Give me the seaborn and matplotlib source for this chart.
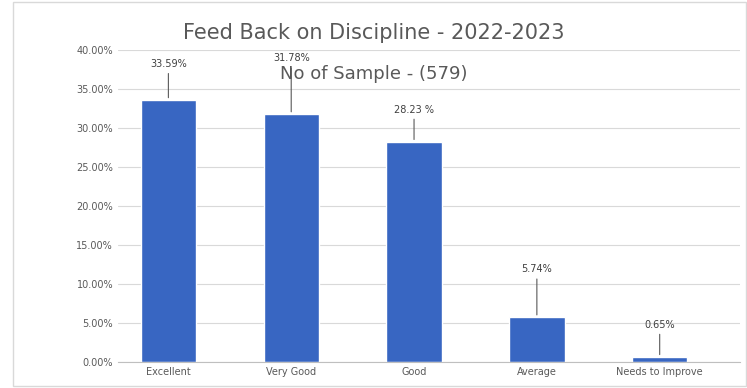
import matplotlib
matplotlib.use("Agg")
import matplotlib.pyplot as plt
import seaborn as sns
import pandas as pd
from matplotlib.ticker import PercentFormatter
from matplotlib.patches import Rectangle

categories = ["Excellent", "Very Good", "Good", "Average", "Needs to Improve"]
percent = [33.59, 31.78, 28.23, 5.74, 0.65]
labels = ["33.59%", "31.78%", "28.23 %", "5.74%", "0.65%"]
title = "Feed Back on Discipline - 2022-2023"
subtitle = "No of Sample - (579)"

df = pd.DataFrame({"category": categories, "percent": percent})

sns.set_style("white")
fig = plt.figure(figsize=(7.47, 3.88), dpi=100)
ax = fig.add_axes([0.158, 0.067, 0.832, 0.804])

sns.barplot(data=df, x="category", y="percent", color="#3866C2",
            width=0.45, saturation=1, ax=ax)

ax.set_ylim(0, 40)
ax.set_yticks(range(0, 41, 5))
ax.yaxis.set_major_formatter(PercentFormatter(decimals=2))
ax.set_xlim(-0.41, 4.65)
ax.grid(axis="y", color="#d9d9d9", linewidth=0.8)
ax.set_axisbelow(True)
for s in ["top", "right", "left"]:
    ax.spines[s].set_visible(False)
ax.spines["bottom"].set_color("#bfbfbf")
ax.tick_params(axis="both", labelsize=7, colors="#595959", length=0)
ax.set_xlabel("")
ax.set_ylabel("")

# data labels with leader lines
offsets = [4.0, 6.5, 3.5, 5.5, 3.5]
for i, (v, lab) in enumerate(zip(percent, labels)):
    ax.annotate(lab, xy=(i, v + 0.3), xytext=(i, v + offsets[i]),
                ha="center", va="bottom", fontsize=7, color="#404040",
                arrowprops=dict(arrowstyle="-", color="#595959", lw=0.8,
                                shrinkA=1, shrinkB=0))

fig.text(0.50, 0.915, title, ha="center", va="center", fontsize=15,
         color="#595959")
fig.text(0.50, 0.81, subtitle, ha="center", va="center", fontsize=13,
         color="#595959")

fig.patches.append(Rectangle((0.018, 0.005), 0.98, 0.99, transform=fig.transFigure,
                             fill=False, edgecolor="#d9d9d9", linewidth=1))

fig.savefig("out.png", dpi=100)
